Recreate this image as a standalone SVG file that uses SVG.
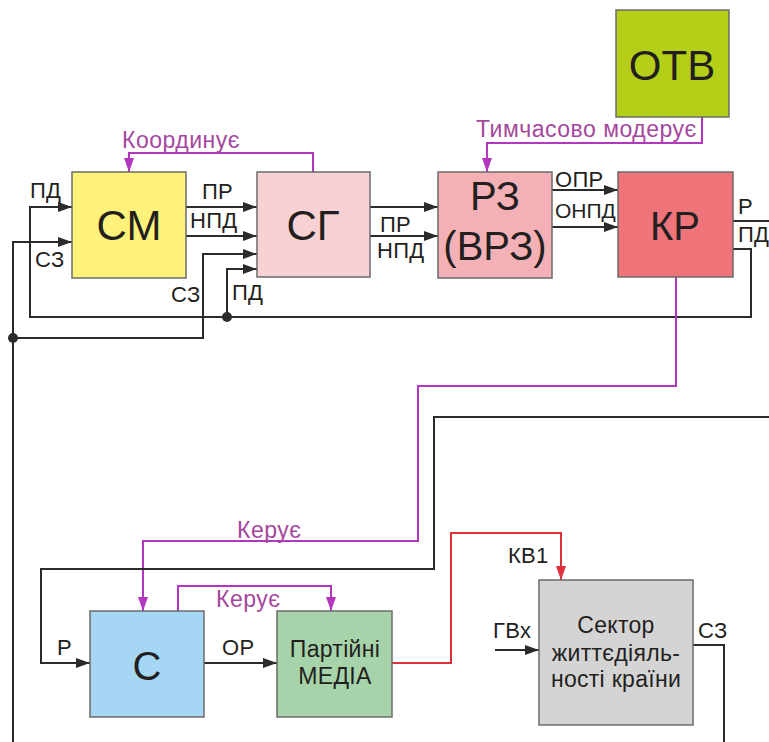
<svg xmlns="http://www.w3.org/2000/svg" width="769" height="742" viewBox="0 0 769 742">
<defs>
<style>
.box{stroke:#6b6b6b;stroke-width:1.5}
.big{font-family:"Liberation Sans",Arial,sans-serif;font-size:42px;fill:#231f20;text-anchor:middle}
.mid{font-family:"Liberation Sans",Arial,sans-serif;font-size:23px;fill:#231f20;text-anchor:middle;letter-spacing:0.3px}
.lbl{font-family:"Liberation Sans",Arial,sans-serif;font-size:22px;fill:#231f20;letter-spacing:0.3px}
.plbl{font-family:"Liberation Sans",Arial,sans-serif;font-size:23px;fill:#a4479d;letter-spacing:0.5px}
.k{fill:none;stroke:#2b2b2b;stroke-width:2}
.p{fill:none;stroke:#b236c0;stroke-width:2}
.r{fill:none;stroke:#e0303a;stroke-width:2}
</style>
<marker id="ak" viewBox="0 0 14 10" refX="14" refY="5" markerWidth="14" markerHeight="10" orient="auto" markerUnits="userSpaceOnUse"><path d="M0,0 L14,5 L0,10 z" fill="#2b2b2b"/></marker>
<marker id="ap" viewBox="0 0 14 10" refX="14" refY="5" markerWidth="14" markerHeight="10" orient="auto" markerUnits="userSpaceOnUse"><path d="M0,0 L14,5 L0,10 z" fill="#b236c0"/></marker>
<marker id="ar" viewBox="0 0 14 10" refX="14" refY="5" markerWidth="14" markerHeight="10" orient="auto" markerUnits="userSpaceOnUse"><path d="M0,0 L14,5 L0,10 z" fill="#e0303a"/></marker>
</defs>
<rect width="769" height="742" fill="#fff"/>

<g id="connectors">
<path class="p" d="M313,172 V153 H129 V172" marker-end="url(#ap)"/>
<path class="p" d="M702,117 V143 H487 V172" marker-end="url(#ap)"/>
<path class="k" d="M186,207 H257" marker-end="url(#ak)"/>
<path class="k" d="M186,236 H257" marker-end="url(#ak)"/>
<path class="k" d="M370,207 H438" marker-end="url(#ak)"/>
<path class="k" d="M370,236 H438" marker-end="url(#ak)"/>
<path class="k" d="M552,190 H618" marker-end="url(#ak)"/>
<path class="k" d="M552,227 H618" marker-end="url(#ak)"/>
<path class="k" d="M733,221 H769"/>
<path class="k" d="M733,249 H751 V317 H30 V207 H72" marker-end="url(#ak)"/>
<path class="k" d="M227,317 V269 H257" marker-end="url(#ak)"/>
<circle cx="227" cy="317" r="5" fill="#2b2b2b"/>
<path class="k" d="M13,742 V242 H72" marker-end="url(#ak)"/>
<path class="k" d="M13,338 H203 V254 H257" marker-end="url(#ak)"/>
<circle cx="13" cy="338" r="5" fill="#2b2b2b"/>
<path class="p" d="M676,277 V386 H418 V541 H143 V611" marker-end="url(#ap)"/>
<path class="k" d="M769,417 H434 V569 H41 V663 H90" marker-end="url(#ak)"/>
<path class="p" d="M178,611 V586 H331 V611" marker-end="url(#ap)"/>
<path class="k" d="M204,663 H277" marker-end="url(#ak)"/>
<path class="r" d="M392,663 H451 V533 H561 V580" marker-end="url(#ar)"/>
<path class="k" d="M495,650 H539" marker-end="url(#ak)"/>
<path class="k" d="M693,645 H724 V742"/>
</g>

<g id="labels">
<text class="plbl" x="122" y="148">Координує</text>
<text class="plbl" x="476" y="137">Тимчасово модерує</text>
<text class="lbl" x="30" y="198">ПД</text>
<text class="lbl" x="35" y="267">СЗ</text>
<text class="lbl" x="202" y="199">ПР</text>
<text class="lbl" x="190" y="228">НПД</text>
<text class="lbl" x="171" y="302">СЗ</text>
<text class="lbl" x="232" y="300">ПД</text>
<text class="lbl" x="380" y="232">ПР</text>
<text class="lbl" x="377" y="258">НПД</text>
<text class="lbl" x="555" y="187">ОПР</text>
<text class="lbl" x="555" y="218" style="font-size:21px;letter-spacing:0">ОНПД</text>
<text class="lbl" x="738" y="214">Р</text>
<text class="lbl" x="738" y="242">ПД</text>
<text class="plbl" x="237" y="538">Керує</text>
<text class="plbl" x="216" y="607">Керує</text>
<text class="lbl" x="57" y="655">Р</text>
<text class="lbl" x="222" y="655">ОР</text>
<text class="lbl" x="508" y="563">КВ1</text>
<text class="lbl" x="493" y="638">ГВх</text>
<text class="lbl" x="698" y="638">СЗ</text>
</g>

<g id="node-OTV">
<rect class="box" x="616" y="10" width="113" height="107" fill="#b5cf19"/>
<text class="big" x="672" y="80">ОТВ</text>
</g>
<g id="node-CM">
<rect class="box" x="72" y="172" width="114" height="106" fill="#fef27a"/>
<text class="big" x="129" y="240">СМ</text>
</g>
<g id="node-SG">
<rect class="box" x="257" y="172" width="113" height="105" fill="#f7d1d3"/>
<text class="big" x="313" y="240">СГ</text>
</g>
<g id="node-P3">
<rect class="box" x="438" y="172" width="114" height="106" fill="#f3b1b5"/>
<text class="big" x="495" y="210" style="font-size:40px">РЗ</text>
<text class="big" x="495" y="260" style="font-size:40px">(ВРЗ)</text>
</g>
<g id="node-KP">
<rect class="box" x="618" y="172" width="115" height="105" fill="#ee7479"/>
<text class="big" x="675" y="240" style="font-size:40px">КР</text>
</g>
<g id="node-C">
<rect class="box" x="90" y="611" width="114" height="106" fill="#a5d7f4"/>
<text class="big" x="147" y="680" style="font-size:40px">С</text>
</g>
<g id="node-Media">
<rect class="box" x="277" y="611" width="115" height="106" fill="#a7d3aa"/>
<text class="mid" x="335" y="657">Партійні</text>
<text class="mid" x="335" y="684">МЕДІА</text>
</g>
<g id="node-Sector">
<rect class="box" x="539" y="580" width="154" height="145" fill="#d4d4d4"/>
<text class="mid" x="616" y="633">Сектор</text>
<text class="mid" x="616" y="661">життєдіяль-</text>
<text class="mid" x="616" y="687">ності країни</text>
</g>
</svg>
